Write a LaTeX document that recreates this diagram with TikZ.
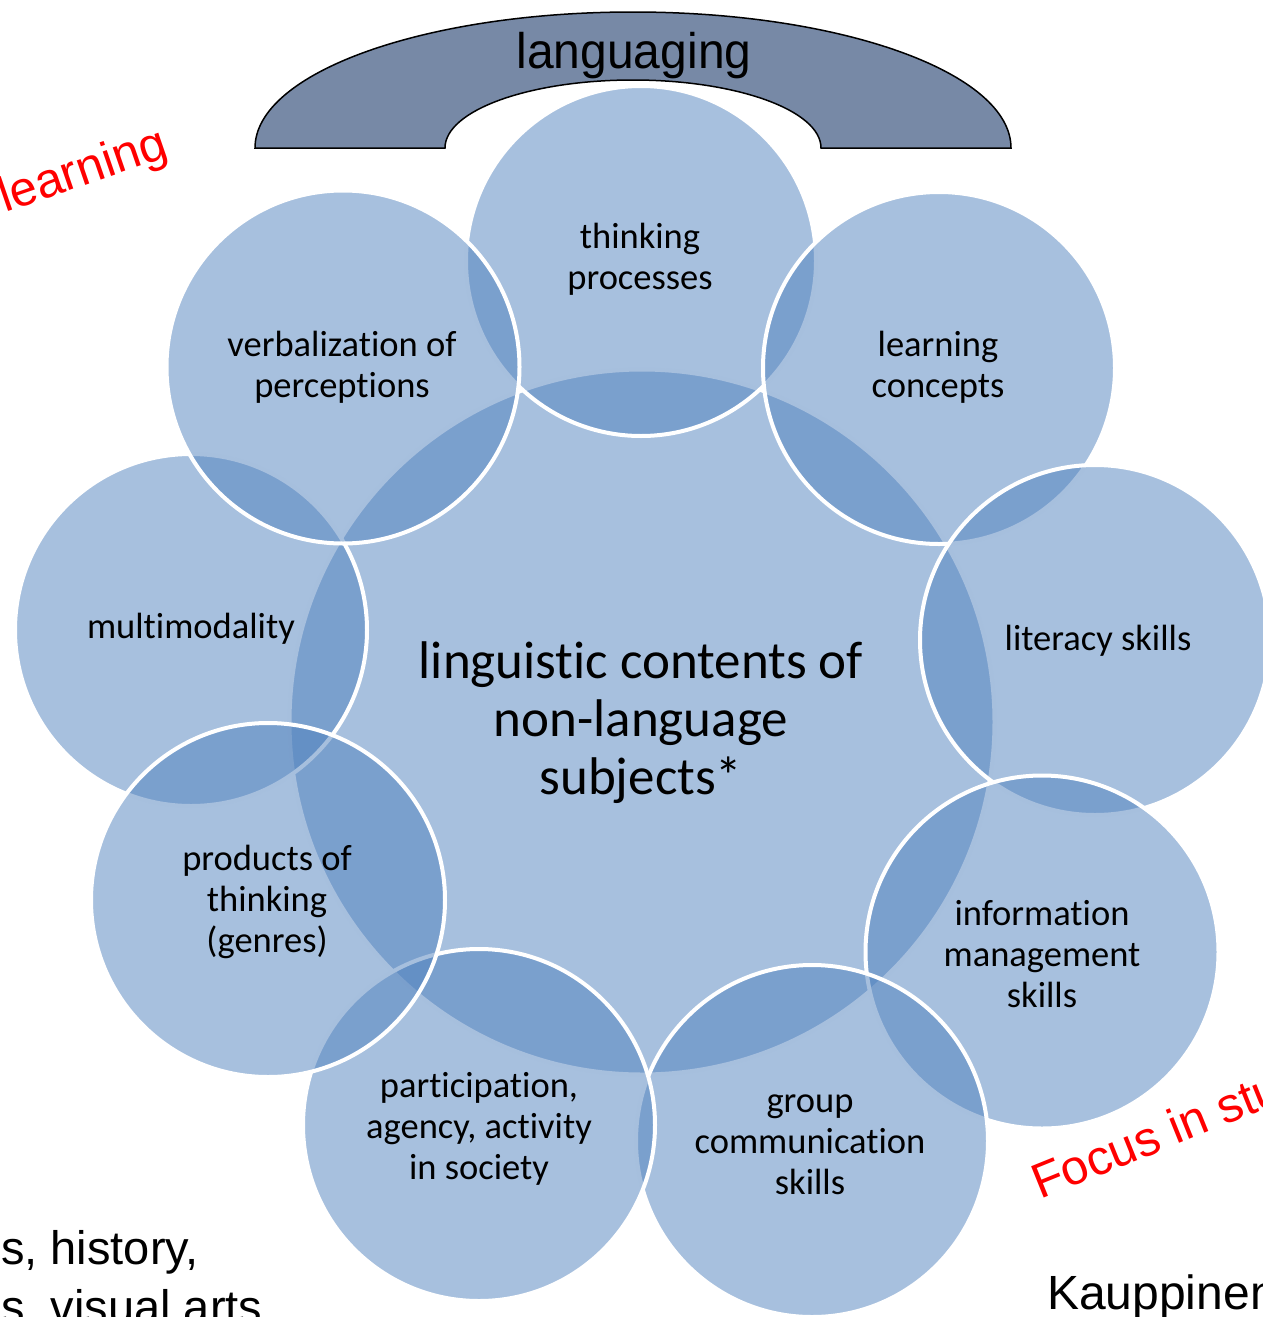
\documentclass[tikz,border=0pt]{standalone}
\usepackage{fontspec}
\setmainfont{Carlito}[Ligatures={NoCommon}]
\newfontfamily\arialf{Liberation Sans}
\definecolor{acc}{HTML}{4F81BD}
\definecolor{archc}{HTML}{7789A6}
\begin{document}
\begin{tikzpicture}[x=1pt,y=-1pt,
  bub/.style={circle, draw=white, line width=4pt, fill=acc, fill opacity=0.5,
    inner sep=0pt, outer sep=0pt, minimum size=#1},
  lab/.style={align=center, text=black, font=\fontsize{36.5}{41}\selectfont},
  biglab/.style={align=center, text=black, font=\fontsize{53}{58}\selectfont},
  redtxt/.style={text=red, font=\arialf\fontsize{49}{52}\selectfont, inner sep=0pt},
  blktxt/.style={text=black, font=\arialf\fontsize{47}{50}\selectfont, inner sep=0pt}]
\useasboundingbox (0,0) rectangle (1262,1317);
% circles (drawn in layering order)
\node[bub=705pt] (cC) at (642,722) {};
\node[bub=350pt] (cThink) at (641,261) {};
\node[bub=352pt] (cLearn) at (939,368) {};
\node[bub=350pt] (cLit) at (1095,640) {};
\node[bub=353pt] (cInfo) at (1042,952) {};
\node[bub=352pt] (cGroup) at (812,1141) {};
\node[bub=352pt] (cPart) at (479,1125) {};
\node[bub=352pt] (cMulti) at (191,630) {};
\node[bub=354pt] (cProd) at (268,900) {};
\node[bub=353pt] (cVerb) at (343,367) {};
% arch
\draw[fill=archc, line width=1.5pt] (255,148)
  arc[start angle=180, end angle=360, x radius=378, y radius=136]
  -- (821,148)
  arc[start angle=0, end angle=-180, x radius=188, y radius=68]
  -- cycle;
\node[font=\arialf\fontsize{50}{56}\selectfont, xscale=0.96, inner sep=0pt] (lang) at (634,56) {languaging};
% labels
\node[biglab] (tC) at (641,723) {linguistic contents of\\non-language\\subjects*};
\node[lab] (tThink) at (640,259) {thinking\\processes};
\node[lab] (tLearn) at (938,367) {learning\\concepts};
\node[lab] (tLit) at (1098,641) {literacy skills};
\node[lab] (tInfo) at (1042,954) {information\\management\\skills};
\node[lab] (tGroup) at (810,1145) {group\\communication\\skills};
\node[lab] (tPart) at (479,1129) {participation,\\agency, activity\\in society};
\node[lab] (tProd) at (267,902) {products of\\thinking\\(genres)};
\node[lab] (tMulti) at (191,629) {multimodality};
\node[lab] (tVerb) at (342,367) {verbalization of\\perceptions};
% side texts
\node[redtxt, anchor=base west, rotate=19] (rLearn) at (5,213) {learning};
\node[redtxt, anchor=base west, rotate=22] (rFocus) at (1040,1200) {Focus in stu};
\node[blktxt, anchor=base west, font=\arialf\fontsize{48}{50}\selectfont] (kaup) at (1047,1309) {Kauppinen};
\node[blktxt, anchor=base west] (hist) at (1,1264) {s, history,};
\node[blktxt, anchor=base west] (arts) at (1,1323) {s, visual arts};
\end{tikzpicture}
\end{document}
